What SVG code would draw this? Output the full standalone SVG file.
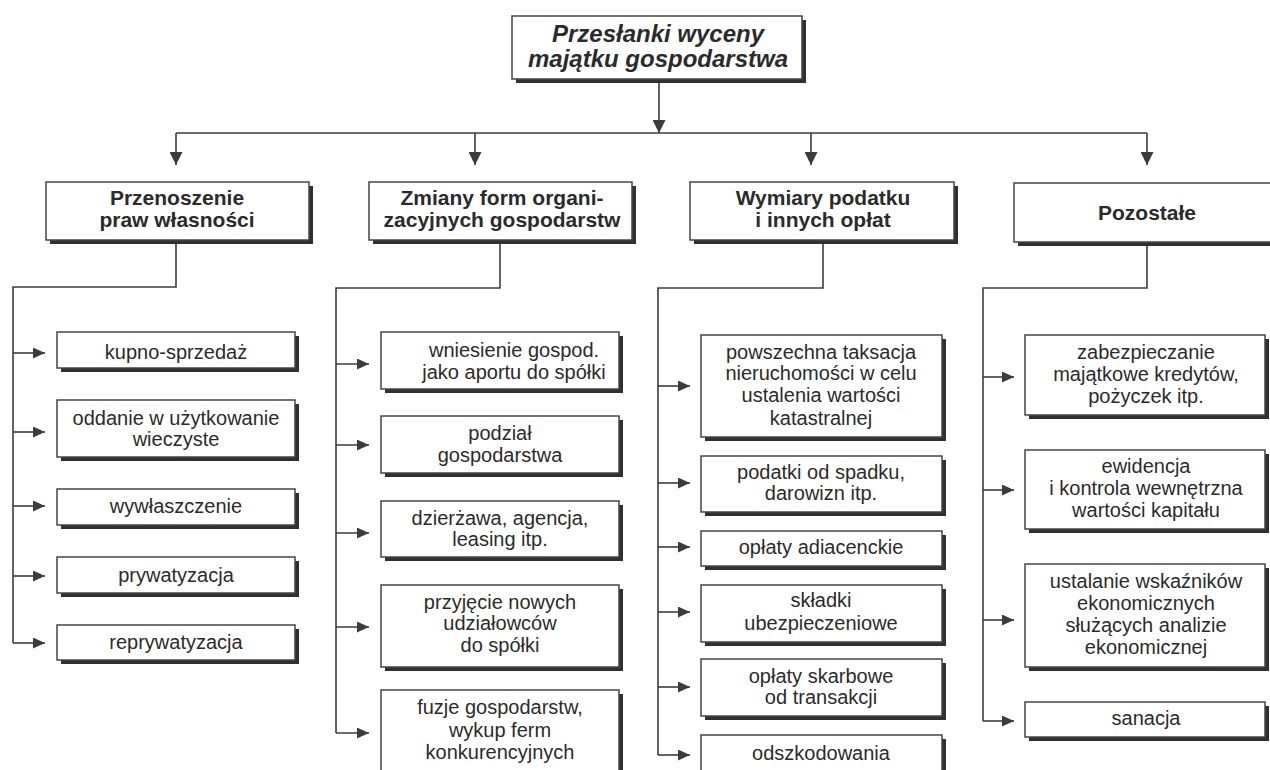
<svg xmlns="http://www.w3.org/2000/svg" width="1270" height="770" viewBox="0 0 1270 770">
<style>
  .bg { fill: #ffffff; }
  .sh { fill: #303030; }
  .bx { fill: #ffffff; stroke: #454545; stroke-width: 1.5; }
  .ln { fill: none; stroke: #3c3c3c; stroke-width: 1.6; }
  .t { font-family: "Liberation Sans", Arial, sans-serif; font-size: 20px; fill: #2b2b2b; text-anchor: middle; }
  .h { font-family: "Liberation Sans", Arial, sans-serif; font-size: 21px; font-weight: bold; fill: #2b2b2b; text-anchor: middle; }
  .r { font-family: "Liberation Sans", Arial, sans-serif; font-size: 24px; font-weight: bold; font-style: italic; fill: #2b2b2b; text-anchor: middle; }
</style>
<defs>
  <marker id="ah" viewBox="0 0 12 11" refX="12" refY="5.5" markerWidth="12" markerHeight="11" markerUnits="userSpaceOnUse" orient="auto">
    <path d="M0,0 L12,5.5 L0,11 Z" fill="#3c3c3c"/>
  </marker>
  <marker id="ahd" viewBox="0 0 13 13" refX="13" refY="6.5" markerWidth="13" markerHeight="13" markerUnits="userSpaceOnUse" orient="auto">
    <path d="M0,0 L13,6.5 L0,13 Z" fill="#3c3c3c"/>
  </marker>
</defs>
<rect class="bg" x="0" y="0" width="1270" height="770"/>

<g id="connectors">
  <line class="ln" x1="659" y1="79" x2="659" y2="133" marker-end="url(#ahd)"/>
  <line class="ln" x1="176" y1="133" x2="1147" y2="133"/>
  <line class="ln" x1="176" y1="133" x2="176" y2="165" marker-end="url(#ahd)"/>
  <line class="ln" x1="475" y1="133" x2="475" y2="165" marker-end="url(#ahd)"/>
  <line class="ln" x1="811" y1="133" x2="811" y2="165" marker-end="url(#ahd)"/>
  <line class="ln" x1="1147" y1="133" x2="1147" y2="165" marker-end="url(#ahd)"/>

  <polyline class="ln" points="176,240 176,287 13,287 13,643"/>
  <line class="ln" x1="13" y1="353" x2="45" y2="353" marker-end="url(#ah)"/>
  <line class="ln" x1="13" y1="432" x2="45" y2="432" marker-end="url(#ah)"/>
  <line class="ln" x1="13" y1="506" x2="45" y2="506" marker-end="url(#ah)"/>
  <line class="ln" x1="13" y1="576" x2="45" y2="576" marker-end="url(#ah)"/>
  <line class="ln" x1="13" y1="643" x2="45" y2="643" marker-end="url(#ah)"/>

  <polyline class="ln" points="500,240 500,288 336,288 336,733"/>
  <line class="ln" x1="336" y1="364" x2="369" y2="364" marker-end="url(#ah)"/>
  <line class="ln" x1="336" y1="445" x2="369" y2="445" marker-end="url(#ah)"/>
  <line class="ln" x1="336" y1="533" x2="369" y2="533" marker-end="url(#ah)"/>
  <line class="ln" x1="336" y1="627" x2="369" y2="627" marker-end="url(#ah)"/>
  <line class="ln" x1="336" y1="733" x2="369" y2="733" marker-end="url(#ah)"/>

  <polyline class="ln" points="823,240 823,288 658,288 658,755"/>
  <line class="ln" x1="658" y1="386" x2="690" y2="386" marker-end="url(#ah)"/>
  <line class="ln" x1="658" y1="483" x2="690" y2="483" marker-end="url(#ah)"/>
  <line class="ln" x1="658" y1="547" x2="690" y2="547" marker-end="url(#ah)"/>
  <line class="ln" x1="658" y1="612" x2="690" y2="612" marker-end="url(#ah)"/>
  <line class="ln" x1="658" y1="687" x2="690" y2="687" marker-end="url(#ah)"/>
  <line class="ln" x1="658" y1="755" x2="690" y2="755" marker-end="url(#ah)"/>

  <polyline class="ln" points="1147,242 1147,288 983,288 983,721"/>
  <line class="ln" x1="983" y1="377" x2="1014" y2="377" marker-end="url(#ah)"/>
  <line class="ln" x1="983" y1="490" x2="1014" y2="490" marker-end="url(#ah)"/>
  <line class="ln" x1="983" y1="620" x2="1014" y2="620" marker-end="url(#ah)"/>
  <line class="ln" x1="983" y1="721" x2="1014" y2="721" marker-end="url(#ah)"/>
</g>

<g id="root">
  <rect class="sh" x="516" y="20" width="290" height="63"/>
  <rect class="bx" x="512" y="16" width="290" height="63"/>
  <text class="r" x="658" y="42">Przesłanki wyceny</text>
  <text class="r" x="658" y="67">majątku gospodarstwa</text>
</g>

<g id="n-przenoszenie">
  <rect class="sh" x="50" y="186" width="263" height="58"/>
  <rect class="bx" x="46" y="182" width="263" height="58"/>
  <text class="h" x="177" y="205">Przenoszenie</text>
  <text class="h" x="177" y="227">praw własności</text>
</g>
<g id="n-zmiany">
  <rect class="sh" x="373" y="186" width="263" height="58"/>
  <rect class="bx" x="369" y="182" width="263" height="58"/>
  <text class="h" x="502" y="205">Zmiany form organi-</text>
  <text class="h" x="502" y="227">zacyjnych gospodarstw</text>
</g>
<g id="n-wymiary">
  <rect class="sh" x="694" y="186" width="264" height="58"/>
  <rect class="bx" x="690" y="182" width="264" height="58"/>
  <text class="h" x="823" y="205">Wymiary podatku</text>
  <text class="h" x="823" y="227">i innych opłat</text>
</g>
<g id="n-pozostale">
  <rect class="sh" x="1018" y="187" width="270" height="59"/>
  <rect class="bx" x="1014" y="183" width="270" height="59"/>
  <text class="h" x="1147" y="220">Pozostałe</text>
</g>

<g id="n-kupno">
  <rect class="sh" x="61" y="336" width="238" height="36"/>
  <rect class="bx" x="57" y="332" width="238" height="36"/>
  <text class="t" x="176" y="359">kupno-sprzedaż</text>
</g>
<g id="n-oddanie">
  <rect class="sh" x="61" y="404" width="238" height="57"/>
  <rect class="bx" x="57" y="400" width="238" height="57"/>
  <text class="t" x="176" y="425">oddanie w użytkowanie</text>
  <text class="t" x="176" y="446">wieczyste</text>
</g>
<g id="n-wywlaszczenie">
  <rect class="sh" x="61" y="493" width="238" height="36"/>
  <rect class="bx" x="57" y="489" width="238" height="36"/>
  <text class="t" x="176" y="513">wywłaszczenie</text>
</g>
<g id="n-prywatyzacja">
  <rect class="sh" x="61" y="561" width="238" height="36"/>
  <rect class="bx" x="57" y="557" width="238" height="36"/>
  <text class="t" x="176" y="582">prywatyzacja</text>
</g>
<g id="n-reprywatyzacja">
  <rect class="sh" x="61" y="629" width="238" height="35"/>
  <rect class="bx" x="57" y="625" width="238" height="35"/>
  <text class="t" x="176" y="649">reprywatyzacja</text>
</g>

<g id="n-wniesienie">
  <rect class="sh" x="385" y="336" width="238" height="57"/>
  <rect class="bx" x="381" y="332" width="238" height="57"/>
  <text class="t" x="514" y="357">wniesienie gospod.</text>
  <text class="t" x="514" y="379">jako aportu do spółki</text>
</g>
<g id="n-podzial">
  <rect class="sh" x="385" y="420" width="238" height="57"/>
  <rect class="bx" x="381" y="416" width="238" height="57"/>
  <text class="t" x="500" y="440">podział</text>
  <text class="t" x="500" y="462">gospodarstwa</text>
</g>
<g id="n-dzierzawa">
  <rect class="sh" x="385" y="505" width="238" height="56"/>
  <rect class="bx" x="381" y="501" width="238" height="56"/>
  <text class="t" x="500" y="525">dzierżawa, agencja,</text>
  <text class="t" x="500" y="546">leasing itp.</text>
</g>
<g id="n-przyjecie">
  <rect class="sh" x="385" y="589" width="238" height="82"/>
  <rect class="bx" x="381" y="585" width="238" height="82"/>
  <text class="t" x="500" y="609">przyjęcie nowych</text>
  <text class="t" x="500" y="630">udziałowców</text>
  <text class="t" x="500" y="652">do spółki</text>
</g>
<g id="n-fuzje">
  <rect class="sh" x="385" y="694" width="238" height="90"/>
  <rect class="bx" x="381" y="690" width="238" height="90"/>
  <text class="t" x="500" y="714">fuzje gospodarstw,</text>
  <text class="t" x="500" y="737">wykup ferm</text>
  <text class="t" x="500" y="759">konkurencyjnych</text>
</g>

<g id="n-powszechna">
  <rect class="sh" x="705" y="339" width="241" height="102"/>
  <rect class="bx" x="701" y="335" width="241" height="102"/>
  <text class="t" x="821" y="359">powszechna taksacja</text>
  <text class="t" x="821" y="380">nieruchomości w celu</text>
  <text class="t" x="821" y="402">ustalenia wartości</text>
  <text class="t" x="821" y="425">katastralnej</text>
</g>
<g id="n-podatki">
  <rect class="sh" x="705" y="460" width="241" height="56"/>
  <rect class="bx" x="701" y="456" width="241" height="56"/>
  <text class="t" x="821" y="479">podatki od spadku,</text>
  <text class="t" x="821" y="500">darowizn itp.</text>
</g>
<g id="n-adiacenckie">
  <rect class="sh" x="705" y="535" width="241" height="35"/>
  <rect class="bx" x="701" y="531" width="241" height="35"/>
  <text class="t" x="821" y="554">opłaty adiacenckie</text>
</g>
<g id="n-skladki">
  <rect class="sh" x="705" y="589" width="241" height="57"/>
  <rect class="bx" x="701" y="585" width="241" height="57"/>
  <text class="t" x="821" y="607">składki</text>
  <text class="t" x="821" y="630">ubezpieczeniowe</text>
</g>
<g id="n-skarbowe">
  <rect class="sh" x="705" y="663" width="241" height="57"/>
  <rect class="bx" x="701" y="659" width="241" height="57"/>
  <text class="t" x="821" y="683">opłaty skarbowe</text>
  <text class="t" x="821" y="704">od transakcji</text>
</g>
<g id="n-odszkodowania">
  <rect class="sh" x="705" y="739" width="241" height="50"/>
  <rect class="bx" x="701" y="735" width="241" height="50"/>
  <text class="t" x="821" y="760">odszkodowania</text>
</g>

<g id="n-zabezpieczanie">
  <rect class="sh" x="1029" y="339" width="240" height="80"/>
  <rect class="bx" x="1025" y="335" width="240" height="80"/>
  <text class="t" x="1146" y="359">zabezpieczanie</text>
  <text class="t" x="1146" y="381">majątkowe kredytów,</text>
  <text class="t" x="1146" y="403">pożyczek itp.</text>
</g>
<g id="n-ewidencja">
  <rect class="sh" x="1029" y="454" width="240" height="79"/>
  <rect class="bx" x="1025" y="450" width="240" height="79"/>
  <text class="t" x="1146" y="473">ewidencja</text>
  <text class="t" x="1146" y="495">i kontrola wewnętrzna</text>
  <text class="t" x="1146" y="517">wartości kapitału</text>
</g>
<g id="n-ustalanie">
  <rect class="sh" x="1029" y="568" width="240" height="103"/>
  <rect class="bx" x="1025" y="564" width="240" height="103"/>
  <text class="t" x="1146" y="588">ustalanie wskaźników</text>
  <text class="t" x="1146" y="610">ekonomicznych</text>
  <text class="t" x="1146" y="632">służących analizie</text>
  <text class="t" x="1146" y="654">ekonomicznej</text>
</g>
<g id="n-sanacja">
  <rect class="sh" x="1029" y="706" width="240" height="35"/>
  <rect class="bx" x="1025" y="702" width="240" height="35"/>
  <text class="t" x="1146" y="725">sanacja</text>
</g>
</svg>
